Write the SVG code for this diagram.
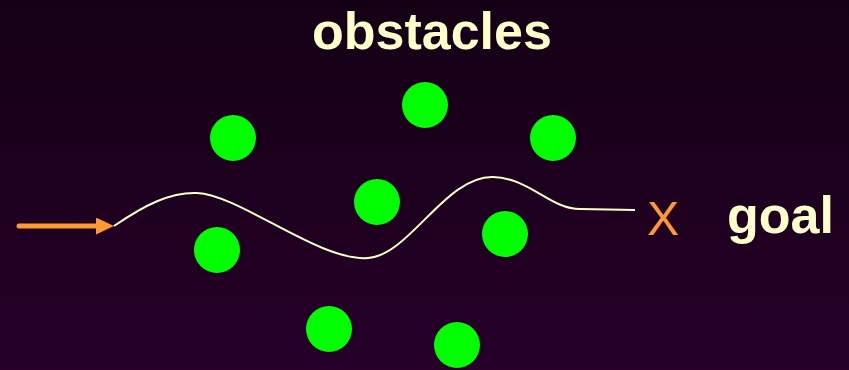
<svg xmlns="http://www.w3.org/2000/svg" width="849" height="370" viewBox="0 0 849 370">
<defs>
<linearGradient id="bg" x1="0" y1="0" x2="0" y2="1">
<stop offset="0" stop-color="#140015"/>
<stop offset="1" stop-color="#260028"/>
</linearGradient>
<marker id="ah" markerWidth="3.6" markerHeight="3.4" refX="1.6" refY="1.7" orient="auto" markerUnits="strokeWidth">
<path d="M0,0 L3.6,1.7 L0,3.4 Z" fill="#FF9933"/>
</marker>
<style>
.obs{fill:#00FF00}
.lbl{font-family:"Liberation Sans",Arial,sans-serif;font-weight:bold;font-size:52px;fill:#FFFFCC}
</style>
</defs>
<rect width="849" height="370" fill="url(#bg)"/>
<text class="lbl" x="312" y="49">obstacles</text>
<g id="obstacles">
<circle class="obs" cx="233" cy="138" r="23"/>
<circle class="obs" cx="425" cy="105" r="23"/>
<circle class="obs" cx="553" cy="138" r="23"/>
<circle class="obs" cx="377" cy="202" r="23"/>
<circle class="obs" cx="505" cy="234" r="23"/>
<circle class="obs" cx="217" cy="250" r="23"/>
<circle class="obs" cx="329" cy="329" r="23"/>
<circle class="obs" cx="457" cy="345" r="23"/>
</g>
<g id="connectors">
<line x1="19" y1="226" x2="104" y2="226" stroke="#FF9933" stroke-width="5" stroke-linecap="round" marker-end="url(#ah)"/>
<path d="M114,226 C145,205 170,192 197,193 C240,195 320,262 368,258 C410,255 445,176 493,177 C530,178 550,209 580,209 L635,210" fill="none" stroke="#FFFFCC" stroke-width="2"/>
</g>
<g id="goal">
<text x="647" y="235" font-family="Liberation Sans,Arial,sans-serif" font-size="48" fill="#FF9933">X</text>
<text class="lbl" x="727" y="233">goal</text>
</g>
</svg>
